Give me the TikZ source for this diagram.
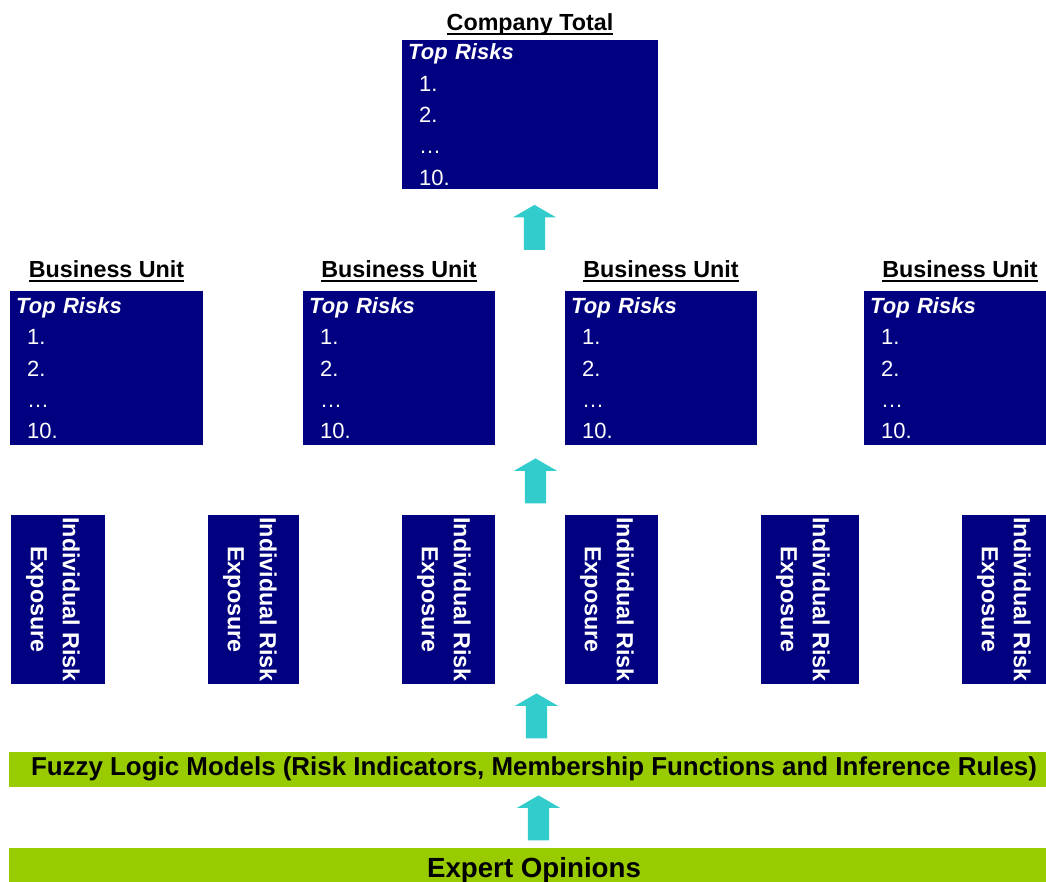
\documentclass[tikz,border=0pt]{standalone}
\usepackage{fontspec}
\setmainfont{Liberation Sans}
\usepackage{tikz}
\usetikzlibrary{shapes.arrows}

\definecolor{riskblue}{HTML}{000080}
\definecolor{fuzzygreen}{HTML}{99CC00}
\definecolor{arrowcyan}{HTML}{33CCCC}

\newcommand{\toprisks}{\textbf{\textit{Top Risks}}\\\hspace*{11pt}1.\\\hspace*{11pt}2.\\\hspace*{11pt}…\\\hspace*{11pt}10.}

\tikzset{
  toplist/.style={fill=riskblue, text=white, inner xsep=6pt, inner ysep=0pt, minimum height=154,
    align=left, anchor=north west, font=\fontsize{22}{31.3}\selectfont},
  heading/.style={font=\fontsize{23.3}{28}\selectfont\bfseries, inner sep=0pt, anchor=base},
  riskcol/.style={fill=riskblue, inner sep=0pt, minimum height=169},
  risklabel/.style={rotate=-90, text=white, inner sep=0pt, align=center,
    font=\fontsize{23.3}{32}\selectfont\bfseries},
  greenbar/.style={fill=fuzzygreen, inner sep=0pt, minimum width=1050, font=\bfseries},
  uparrow/.style={single arrow, fill=arrowcyan, rotate=90, inner xsep=0pt, inner ysep=10.5pt,
    minimum height=45, minimum width=43, single arrow head extend=11, single arrow tip angle=120}
}

\begin{document}
\begin{tikzpicture}[x=1pt,y=-1pt]
\useasboundingbox (0,0) rectangle (1046,881);

\node[heading] (ctitle) at (530,30) {Company Total};
\draw[line width=2pt] ([yshift=-4pt]ctitle.base west) -- ([yshift=-4pt]ctitle.base east);
\node[toplist, text width=244, minimum height=149] (company) at (402,40) {\toprisks};

\node[uparrow] (up1) at (534.5,230.5) {};

\node[heading] (bu1title) at (106.5,277) {Business Unit};
\node[heading] (bu2title) at (399,277) {Business Unit};
\node[heading] (bu3title) at (661,277) {Business Unit};
\node[heading] (bu4title) at (960,277) {Business Unit};
\draw[line width=2pt] ([yshift=-4pt]bu1title.base west) -- ([yshift=-4pt]bu1title.base east);
\draw[line width=2pt] ([yshift=-4pt]bu2title.base west) -- ([yshift=-4pt]bu2title.base east);
\draw[line width=2pt] ([yshift=-4pt]bu3title.base west) -- ([yshift=-4pt]bu3title.base east);
\draw[line width=2pt] ([yshift=-4pt]bu4title.base west) -- ([yshift=-4pt]bu4title.base east);
\node[toplist, text width=181] (bu1) at (10,291) {\toprisks};
\node[toplist, text width=180] (bu2) at (303,291) {\toprisks};
\node[toplist, text width=180] (bu3) at (565,291) {\toprisks};
\node[toplist, text width=180] (bu4) at (864,291) {\toprisks};

\node[uparrow] (up2) at (535.5,484) {};

\node[riskcol, minimum width=94] (ir1) at (58,599.5) {};
\node[riskcol, minimum width=91] (ir2) at (253.5,599.5) {};
\node[riskcol, minimum width=93] (ir3) at (448.5,599.5) {};
\node[riskcol, minimum width=93] (ir4) at (611.5,599.5) {};
\node[riskcol, minimum width=98] (ir5) at (810,599.5) {};
\node[riskcol, minimum width=93] (ir6) at (1008.5,599.5) {};
\node[risklabel] (ir1text) at ([xshift=42pt]ir1.west) {Individual Risk\\Exposure};
\node[risklabel] (ir2text) at ([xshift=42pt]ir2.west) {Individual Risk\\Exposure};
\node[risklabel] (ir3text) at ([xshift=42pt]ir3.west) {Individual Risk\\Exposure};
\node[risklabel] (ir4text) at ([xshift=42pt]ir4.west) {Individual Risk\\Exposure};
\node[risklabel] (ir5text) at ([xshift=42pt]ir5.west) {Individual Risk\\Exposure};
\node[risklabel] (ir6text) at ([xshift=42pt]ir6.west) {Individual Risk\\Exposure};

\node[uparrow] (up3) at (536.5,719) {};

\node[greenbar, minimum height=35, font=\fontsize{25.9}{30}\selectfont\bfseries] (fuzzy) at (534,769) {Fuzzy Logic Models (Risk Indicators, Membership Functions and Inference Rules)};

\node[uparrow] (up4) at (538.5,821) {};

\node[greenbar, minimum height=44, font=\fontsize{27.7}{32}\selectfont\bfseries] (expert) at (534,870) {Expert Opinions};

\end{tikzpicture}
\end{document}
